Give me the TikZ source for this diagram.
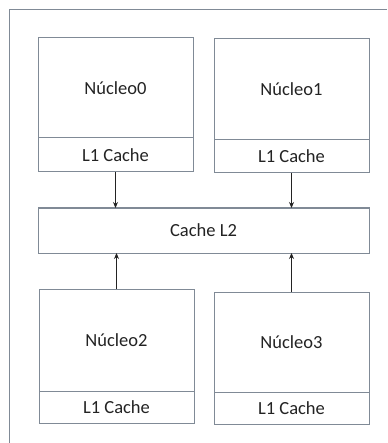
\documentclass[tikz,border=0pt]{standalone}
\usepackage{fontspec}
\setmainfont{Carlito}
\usetikzlibrary{arrows.meta}
\definecolor{boxgray}{RGB}{128,138,150}
\definecolor{txt}{RGB}{35,35,35}
\begin{document}
\begin{tikzpicture}[x=1pt,y=-1pt,
  box/.style={draw=boxgray, line width=1pt, rectangle, inner sep=0pt, outer sep=0pt,
    anchor=north west, text=txt, font=\fontsize{18.5}{22}\selectfont},
  link/.style={draw=txt, line width=0.9pt, -{Stealth[length=6pt,width=5pt]}}]
\useasboundingbox (0,0) rectangle (387,443);
\fill[white] (0,0) rectangle (387,443);
% outer frame (only left and top edges visible)
\draw[boxgray, line width=1pt] (9,443) -- (9,10) -- (387,10);
% core 0
\node[box, minimum width=155, minimum height=100] (n0) at (38,38) {Núcleo0};
\node[box, minimum width=155, minimum height=34] (c0) at (38,138) {L1 Cache};
% core 1
\node[box, minimum width=155, minimum height=101] (n1) at (214,39) {Núcleo1};
\node[box, minimum width=155, minimum height=33] (c1) at (214,140) {L1 Cache};
% L2
\node[box, minimum width=331, minimum height=45] (l2) at (38,208) {Cache L2};
% core 2
\node[box, minimum width=155, minimum height=102] (n2) at (39,289) {Núcleo2};
\node[box, minimum width=155, minimum height=32] (c2) at (39,391) {L1 Cache};
% core 3
\node[box, minimum width=155, minimum height=100] (n3) at (214,292) {Núcleo3};
\node[box, minimum width=155, minimum height=32] (c3) at (214,392) {L1 Cache};
% arrows
\draw[link] (c0.south) -- (l2.north -| c0.south);
\draw[link] (c1.south) -- (l2.north -| c1.south);
\draw[link] (n2.north) -- (l2.south -| n2.north);
\draw[link] (n3.north) -- (l2.south -| n3.north);
\end{tikzpicture}
\end{document}
